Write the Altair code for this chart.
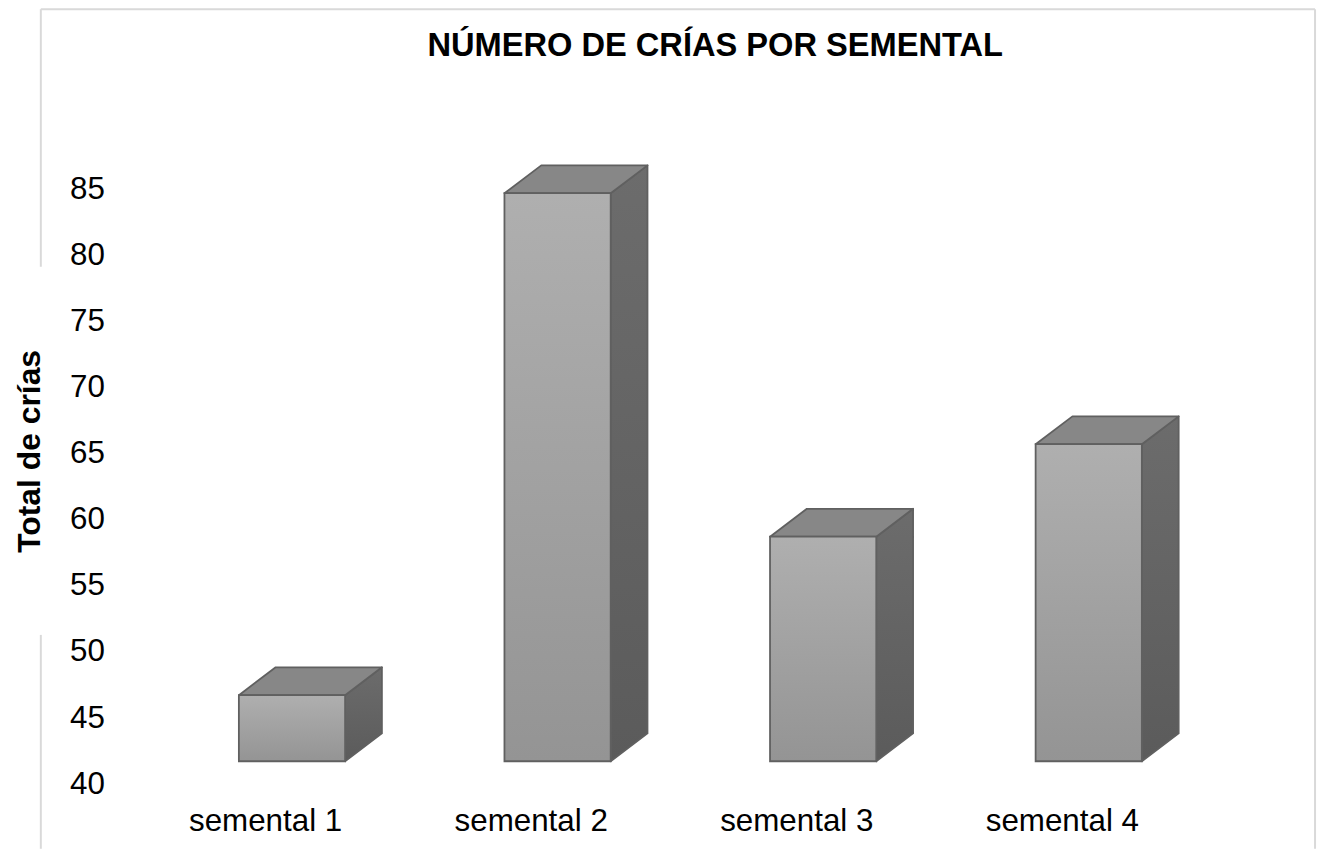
import json
import altair as alt
import pandas as pd

# ---- data ----
categories = ["semental 1", "semental 2", "semental 3", "semental 4"]
values = [45, 83, 57, 64]
y_ticks = [40, 45, 50, 55, 60, 65, 70, 75, 80, 85]

# ---- layout / style ----
FONT = "Liberation Sans"
PLOT_W, PLOT_H = 1068, 664
X_DOMAIN = [0, len(categories)]
Y_DOMAIN = [40, 90]
BASE = Y_DOMAIN[0]
PX_X = PLOT_W / (X_DOMAIN[1] - X_DOMAIN[0])
PX_Y = PLOT_H / (Y_DOMAIN[1] - Y_DOMAIN[0])
BAR_L, BAR_R = 0.3, 0.7
DX = 37 / PX_X          # 3D depth offset to the right
DY = 28 / PX_Y          # 3D depth offset upward
STROKE = "#606060"
SW = 1.8

rows_front, rows_side, rows_top = [], [], []
for i, (c, v) in enumerate(zip(categories, values)):
    rows_front.append({"cat": c, "x": i + BAR_L, "x2": i + BAR_R, "y": v, "y2": BASE})
    rows_side.append({"cat": c, "x": i + BAR_R, "y": v, "y2": BASE})
    rows_side.append({"cat": c, "x": i + BAR_R + DX, "y": v + DY, "y2": BASE + DY})
    rows_top.append({"cat": c, "y": v, "x": i + BAR_L, "x2": i + BAR_R})
    rows_top.append({"cat": c, "y": v + DY, "x": i + BAR_L + DX, "x2": i + BAR_R + DX})

front_df = pd.DataFrame(rows_front)
side_df = pd.DataFrame(rows_side)
top_df = pd.DataFrame(rows_top)

label_js = json.dumps(categories)

xscale = alt.Scale(domain=X_DOMAIN, nice=False, zero=False)
yscale = alt.Scale(domain=Y_DOMAIN, nice=False, zero=False)

x_axis = alt.Axis(
    values=[i + 0.5 for i in range(len(categories))],
    labelExpr=f"{label_js}[round(datum.value - 0.5)]",
    domain=False, ticks=False, grid=False, title=None,
    labelFont=FONT, labelFontSize=31.5, labelColor="#000000",
    labelOffset=-27, labelPadding=45, labelFlush=False, labelOverlap=False,
)
y_axis = alt.Axis(
    values=y_ticks,
    domain=False, ticks=False, grid=False,
    title="Total de crías",
    titleFont=FONT, titleFontSize=32, titleFontWeight="bold", titleColor="#000000",
    titleAngle=270, titleAlign="center", titleBaseline="alphabetic",
    titleX=-120, titleY=352,
    labelFont=FONT, labelFontSize=31.5, labelColor="#000000",
    labelOffset=23, labelPadding=55, labelFlush=False, labelOverlap=False,
    labelBound=False,
)

side = alt.Chart(side_df).mark_area(
    orient="vertical", interpolate="linear",
    stroke=STROKE, strokeWidth=SW, strokeJoin="round",
    fill=alt.LinearGradient(
        gradient="linear",
        stops=[alt.GradientStop(color="#6c6c6c", offset=0),
               alt.GradientStop(color="#5b5b5b", offset=1)],
        x1=0, x2=0, y1=0, y2=1,
    ),
).encode(
    x=alt.X("x:Q", scale=xscale, axis=x_axis),
    y=alt.Y("y:Q", scale=yscale, axis=y_axis),
    y2="y2:Q",
    detail="cat:N",
)

top = alt.Chart(top_df).mark_area(
    orient="horizontal", interpolate="linear",
    stroke=STROKE, strokeWidth=SW, strokeJoin="round",
    fill="#878787",
).encode(
    y=alt.Y("y:Q", scale=yscale),
    x=alt.X("x:Q", scale=xscale),
    x2="x2:Q",
    detail="cat:N",
)

front = alt.Chart(front_df).mark_rect(
    stroke=STROKE, strokeWidth=SW,
    fill=alt.LinearGradient(
        gradient="linear",
        stops=[alt.GradientStop(color="#afafaf", offset=0),
               alt.GradientStop(color="#949494", offset=1)],
        x1=0, x2=0, y1=0, y2=1,
    ),
).encode(
    x=alt.X("x:Q", scale=xscale),
    x2="x2:Q",
    y=alt.Y("y:Q", scale=yscale),
    y2="y2:Q",
)

# chart border (decorative frame, pixel offsets relative to plot origin)
one = pd.DataFrame({"o": [0]})
BORDER = "#d9d9d9"
def rule(x, x2, y, y2):
    return alt.Chart(one).mark_rule(color=BORDER, strokeWidth=2).encode(
        x=alt.value(x), x2=alt.value(x2), y=alt.value(y), y2=alt.value(y2)
    )

border = (
    rule(-119, 1162, -92, -92)
    + rule(1162, 1162, -92, 752)
    + rule(-119, -119, -92, 167)
    + rule(-119, -119, 537, 752)
)

chart = alt.layer(border, side, top, front).properties(
    width=PLOT_W,
    height=PLOT_H,
    autosize=alt.AutoSizeParams(type="none"),
    padding={"left": 152, "top": 91, "right": 100, "bottom": 88},
    view=alt.ViewBackground(strokeOpacity=0, strokeWidth=0, fill="#ffffff"),
    title=alt.TitleParams(
        "NÚMERO DE CRÍAS POR SEMENTAL",
        font=FONT, fontSize=32.8, fontWeight="bold", color="#000000",
        anchor="middle", dx=25, baseline="alphabetic", offset=-81,
    ),
).configure_view(
    strokeWidth=0, strokeOpacity=0
).configure_axis(
    domain=False, grid=False, ticks=False
).configure(background="#ffffff")

chart.save("out.html", embed_options={"renderer": "svg", "actions": False})
